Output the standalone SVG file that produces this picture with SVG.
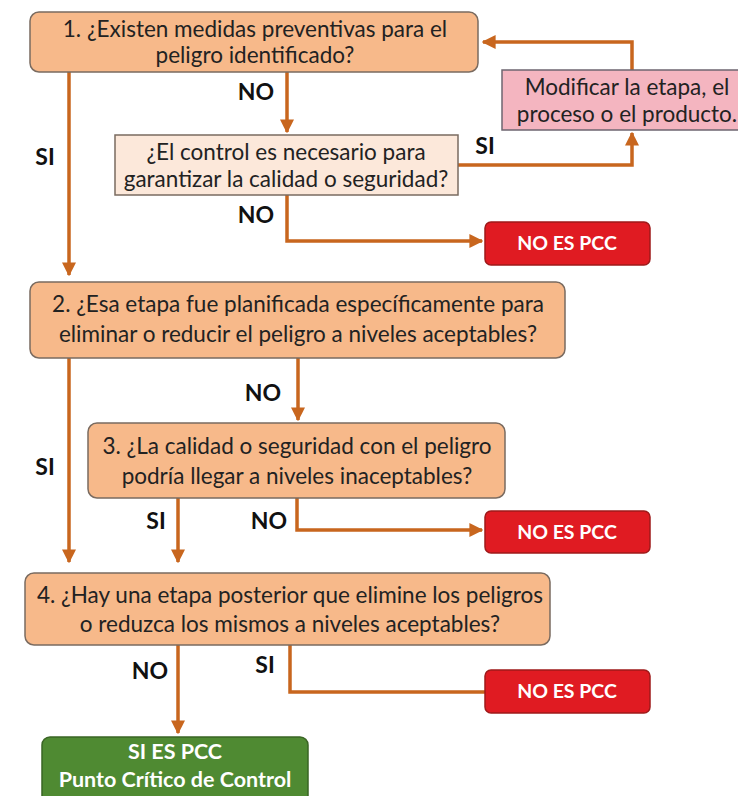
<svg xmlns="http://www.w3.org/2000/svg" width="738" height="796" viewBox="0 0 738 796">
<defs>
<marker id="ah" viewBox="0 0 10 10" refX="9" refY="5" markerWidth="4" markerHeight="4" orient="auto" markerUnits="strokeWidth">
<path d="M0,0 L10,5 L0,10 z" fill="#C8661E"/>
</marker>
<style>
.q{fill:#F7B98A;stroke:#7A6B60;stroke-width:1.5}
.qc{fill:#FCE8DA;stroke:#7A6B60;stroke-width:1.5}
.mod{fill:#F4B5C0;stroke:#6E6670;stroke-width:1.5}
.red{fill:#E01B22;stroke:#9E1A1A;stroke-width:1.5}
.grn{fill:#4F8A32;stroke:#3A6525;stroke-width:1.5}
.t{font-family:Lato,"Open Sans","Liberation Sans",sans-serif;font-size:22.5px;fill:#222;text-anchor:middle}
.w{font-family:Lato,"Open Sans","Liberation Sans",sans-serif;font-size:19.5px;font-weight:bold;fill:#fff;text-anchor:middle}
.g{font-family:Lato,"Open Sans","Liberation Sans",sans-serif;font-size:21.5px;font-weight:bold;fill:#fff;text-anchor:middle}
.lb{font-family:Lato,"Open Sans","Liberation Sans",sans-serif;font-size:23px;font-weight:bold;fill:#111;text-anchor:middle}
.c{fill:none;stroke:#C8661E;stroke-width:3.5}
</style>
</defs>
<rect width="738" height="796" fill="#fff"/>
<g id="connectors">
<path class="c" d="M69,72 V275" marker-end="url(#ah)"/>
<path class="c" d="M287,72 V132" marker-end="url(#ah)"/>
<path class="c" d="M458,165 H632 V133" marker-end="url(#ah)"/>
<path class="c" d="M632,70 V42 H483" marker-end="url(#ah)"/>
<path class="c" d="M287,195 V241 H482" marker-end="url(#ah)"/>
<path class="c" d="M69,358 V562" marker-end="url(#ah)"/>
<path class="c" d="M298,358 V420" marker-end="url(#ah)"/>
<path class="c" d="M178,498 V562" marker-end="url(#ah)"/>
<path class="c" d="M297,498 V530 H482" marker-end="url(#ah)"/>
<path class="c" d="M178,645 V733" marker-end="url(#ah)"/>
<path class="c" d="M290,645 V692 H486"/>
<text class="lb" x="45" y="165">SI</text>
<text class="lb" x="256" y="100">NO</text>
<text class="lb" x="485" y="154">SI</text>
<text class="lb" x="256" y="223">NO</text>
<text class="lb" x="45" y="475">SI</text>
<text class="lb" x="263" y="401">NO</text>
<text class="lb" x="156" y="529">SI</text>
<text class="lb" x="269" y="529">NO</text>
<text class="lb" x="150" y="679">NO</text>
<text class="lb" x="265" y="673">SI</text>
</g>
<g id="q1">
<rect class="q" x="30" y="12" width="448" height="60" rx="9"/>
<text class="t" x="255" y="37">1. ¿Existen medidas preventivas para el</text>
<text class="t" x="255" y="63">peligro identificado?</text>
</g>
<g id="qcontrol">
<rect class="qc" x="115" y="135" width="343" height="60"/>
<text class="t" x="286" y="160">¿El control es necesario para</text>
<text class="t" x="286" y="187">garantizar la calidad o seguridad?</text>
</g>
<g id="modificar">
<rect class="mod" x="502" y="70" width="240" height="60"/>
<text class="t" x="627" y="95">Modificar la etapa, el</text>
<text class="t" x="627" y="122">proceso o el producto.</text>
</g>
<g id="nopcc1">
<rect class="red" x="485" y="222" width="165" height="43" rx="6"/>
<text class="w" x="567" y="250">NO ES PCC</text>
</g>
<g id="q2">
<rect class="q" x="30" y="282" width="535" height="76" rx="9"/>
<text class="t" x="298" y="312">2. ¿Esa etapa fue planificada específicamente para</text>
<text class="t" x="298" y="342">eliminar o reducir el peligro a niveles aceptables?</text>
</g>
<g id="q3">
<rect class="q" x="88" y="423" width="417" height="75" rx="9"/>
<text class="t" x="297" y="454">3. ¿La calidad o seguridad con el peligro</text>
<text class="t" x="297" y="484">podría llegar a niveles inaceptables?</text>
</g>
<g id="nopcc2">
<rect class="red" x="485" y="511" width="165" height="42" rx="6"/>
<text class="w" x="567" y="539">NO ES PCC</text>
</g>
<g id="q4">
<rect class="q" x="25" y="573" width="525" height="72" rx="9"/>
<text class="t" x="290" y="603">4. ¿Hay una etapa posterior que elimine los peligros</text>
<text class="t" x="290" y="632">o reduzca los mismos a niveles aceptables?</text>
</g>
<g id="nopcc3">
<rect class="red" x="485" y="670" width="165" height="43" rx="6"/>
<text class="w" x="567" y="698">NO ES PCC</text>
</g>
<g id="sipcc">
<rect class="grn" x="42" y="737" width="266" height="70" rx="8"/>
<text class="g" x="175" y="759">SI ES PCC</text>
<text class="g" x="175" y="787">Punto Crítico de Control</text>
</g>
</svg>
